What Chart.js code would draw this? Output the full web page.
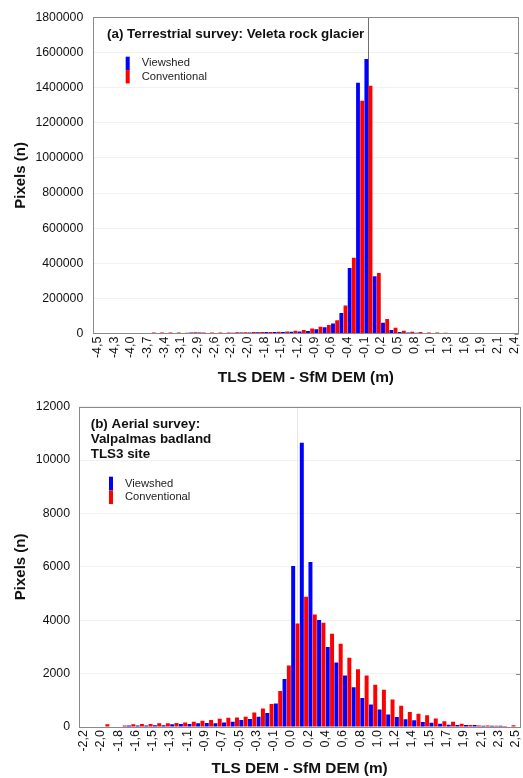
<!DOCTYPE html>
<html>
<head>
<meta charset="utf-8">
<title>TLS DEM - SfM DEM histograms</title>
<script src="https://cdn.jsdelivr.net/npm/chart.js@4.4.1/dist/chart.umd.min.js"></script>
<style>
  html, body { margin: 0; padding: 0; background: #fff; }
  .panel { position: absolute; left: 0; width: 523px; }
  #panel-a { top: 0; height: 390px; }
  #panel-b { top: 390px; height: 388px; }
</style>
</head>
<body>
<div class="panel" id="panel-a"><canvas id="chart-a"></canvas></div>
<div class="panel" id="panel-b"><canvas id="chart-b"></canvas></div>
<script>
// (a) Terrestrial survey - 51 bins, every other bin labelled
const ticksA = ['-4,5', '-4,3', '-4,0', '-3,7', '-3,4', '-3,1', '-2,9', '-2,6', '-2,3', '-2,0', '-1,8', '-1,5', '-1,2',
    '-0,9', '-0,6', '-0,4', '-0,1', '0,2', '0,5', '0,8', '1,0', '1,3', '1,6', '1,9', '2,1', '2,4'];
const viewshedA = [0, 0, 0, 0, 0, 0, 0, 0, 0, 0,
    2000, 6000, 6000, 2000, 0, 0, 4000, 6000, 6000, 7000,
    8000, 8000, 9000, 10000, 11000, 14000, 24000, 35000, 57000, 117000,
    373000, 1428000, 1563000, 326000, 61000, 20000, 8000, 5000, 4000, 3000,
    2000, 0, 0, 0, 0, 0, 0, 0, 0, 0, 0];
const conventionalA = [0, 0, 0, 0, 0, 0, 0, 5000, 5000, 6000,
    5000, 4000, 7000, 5000, 5000, 5000, 6000, 7000, 7000, 8000,
    8000, 9000, 10000, 12000, 15000, 20000, 29000, 38000, 48000, 76000,
    160000, 432000, 1325000, 1410000, 345000, 82000, 33000, 16000, 10000, 8000,
    6000, 5000, 4000, 3000, 0, 0, 0, 0, 0, 0, 0];
const zeroLineA = 32.5; // category position of the 0 m line

// (b) Aerial survey
const ticksB = ['-2,2', '-2,0', '-1,8', '-1,6', '-1,5', '-1,3', '-1,1', '-0,9', '-0,7', '-0,5', '-0,3', '-0,1', '0,0',
    '0,2', '0,4', '0,6', '0,8', '1,0', '1,2', '1,4', '1,5', '1,7', '1,9', '2,1', '2,3', '2,5'];
const viewshedB = [0, 0, 0, 0, 0, 60, 60, 60, 70, 70,
    100, 110, 110, 140, 150, 140, 170, 200, 260, 300,
    380, 520, 880, 1800, 6030, 10650, 6180, 4010, 3000, 2420,
    1930, 1490, 1090, 840, 660, 470, 370, 290, 250, 185,
    160, 120, 86, 75, 75, 75, 50, 50, 50, 0, 0];
const conventionalB = [0, 0, 0, 100, 0, 60, 100, 110, 110, 140,
    140, 150, 170, 200, 230, 260, 310, 350, 360, 380,
    540, 690, 860, 1350, 2300, 3880, 4880, 4210, 3910, 3490,
    3120, 2590, 2160, 1930, 1580, 1400, 1030, 800, 560, 500,
    440, 320, 220, 200, 120, 75, 60, 60, 50, 40, 70];
const refLineB = 24.66;

Chart.defaults.font.family = '"Liberation Sans", Arial, sans-serif';
Chart.defaults.color = '#111';

// one slot per bin, only every other one gets a label
const toCategories = (ticks) => {
    const out = [];
    ticks.forEach((t, i) => {
        out.push(t);
        if (i < ticks.length - 1) out.push('');
    });
    return out;
};

// frame, reference line, caption and legend drawn inside the plot
const panelDecor = {
    id: 'panelDecor',
    beforeDatasetsDraw(chart, args, opts) {
        const { ctx, chartArea: a, scales: { x } } = chart;
        const px = Math.round(x.getPixelForValue(opts.refLine)) + 0.5;
        ctx.save();
        ctx.strokeStyle = opts.refColor;
        ctx.lineWidth = 1;
        ctx.beginPath();
        ctx.moveTo(px, a.top);
        ctx.lineTo(px, a.bottom);
        ctx.stroke();
        ctx.restore();
    },
    afterDatasetsDraw(chart, args, opts) {
        const { ctx, chartArea: a, scales: { y } } = chart;
        ctx.save();
        ctx.strokeStyle = '#8a8a8a';
        ctx.lineWidth = 1;
        ctx.strokeRect(Math.round(a.left) + 0.5, Math.round(a.top) + 0.5, Math.round(a.width), Math.round(a.height));
        y.ticks.forEach((t) => {
            const py = Math.round(y.getPixelForValue(t.value)) + 0.5;
            ctx.beginPath();
            ctx.moveTo(a.right - 4, py);
            ctx.lineTo(a.right, py);
            ctx.stroke();
        });

        ctx.textBaseline = 'middle';
        ctx.textAlign = 'left';
        ctx.fillStyle = '#111';
        ctx.font = 'bold 13.4px "Liberation Sans", Arial, sans-serif';
        opts.caption.forEach((line, i) => {
            ctx.fillText(line, a.left + opts.captionX, a.top + opts.captionY + i * 15.2);
        });

        ctx.font = '11.2px "Liberation Sans", Arial, sans-serif';
        const items = chart.data.datasets.slice().reverse();
        items.forEach((ds, i) => {
            const top = a.top + opts.legendY + i * opts.legendStep;
            ctx.fillStyle = ds.backgroundColor;
            ctx.fillRect(a.left + opts.legendX, top, 4, opts.legendStep);
            ctx.fillStyle = '#222';
            ctx.fillText(ds.label, a.left + opts.legendX + 16, top + opts.legendStep / 2);
        });
        ctx.restore();
    },
};

const makeChart = (id, cfg) => new Chart(document.getElementById(id), {
    type: 'bar',
    data: {
        labels: toCategories(cfg.ticks),
        datasets: [
            { label: 'Conventional', data: cfg.conventional, backgroundColor: '#ff0000', barPercentage: 0.92, categoryPercentage: 1 },
            { label: 'Viewshed', data: cfg.viewshed, backgroundColor: '#0000ff', barPercentage: 0.92, categoryPercentage: 1 },
        ],
    },
    options: {
        responsive: true,
        maintainAspectRatio: false,
        animation: false,
        events: [],
        layout: { padding: { top: cfg.padTop, right: cfg.padRight, left: 0, bottom: 0 } },
        plugins: {
            legend: { display: false },
            tooltip: { enabled: false },
            panelDecor: cfg.decor,
        },
        scales: {
            x: {
                grid: { display: false, drawTicks: false },
                border: { display: false },
                ticks: { autoSkip: false, minRotation: 90, maxRotation: 90, padding: 3, font: { size: 12.5 } },
                title: {
                    display: true,
                    text: 'TLS DEM - SfM DEM (m)',
                    font: { size: 15.4, weight: 'bold' },
                    padding: { top: 0, bottom: cfg.xTitlePad },
                },
                afterFit: (s) => {
                    s.height = cfg.xAxisHeight;
                    s.paddingLeft = 0;
                    s.paddingRight = 0;
                },
            },
            y: {
                min: 0,
                max: cfg.yMax,
                ticks: { stepSize: cfg.yStep, padding: cfg.yTickPad, font: { size: 12.3 }, callback: (v) => String(v) },
                grid: { color: '#f1f1f1', drawTicks: false },
                border: { display: false },
                title: {
                    display: true,
                    text: 'Pixels (n)',
                    font: { size: 15, weight: 'bold' },
                    padding: { top: 12, bottom: 0 },
                },
                afterFit: (s) => { s.width = cfg.yAxisWidth; },
            },
        },
    },
    plugins: [panelDecor],
});

makeChart('chart-a', {
    ticks: ticksA,
    viewshed: viewshedA,
    conventional: conventionalA,
    yMax: 1800000,
    yStep: 200000,
    padTop: 14,
    padRight: 4.5,
    xAxisHeight: 56.5,
    yAxisWidth: 93.3,
    yTickPad: 10,
    xTitlePad: 3.3,
    decor: {
        refLine: zeroLineA,
        refColor: '#707070',
        caption: ['(a) Terrestrial survey: Veleta rock glacier'],
        captionX: 13.7,
        captionY: 16.5,
        legendX: 32.4,
        legendY: 39.3,
        legendStep: 13.4,
    },
});

makeChart('chart-b', {
    ticks: ticksB,
    viewshed: viewshedB,
    conventional: conventionalB,
    yMax: 12000,
    yStep: 2000,
    padTop: 15,
    padRight: 3,
    xAxisHeight: 51,
    yAxisWidth: 79.3,
    yTickPad: 9.3,
    xTitlePad: 0,
    decor: {
        refLine: refLineB,
        refColor: '#e6e6e6',
        caption: ['(b) Aerial survey:', 'Valpalmas badland', 'TLS3 site'],
        captionX: 11.4,
        captionY: 17.3,
        legendX: 29.7,
        legendY: 70,
        legendStep: 13.7,
    },
});
</script>
</body>
</html>
